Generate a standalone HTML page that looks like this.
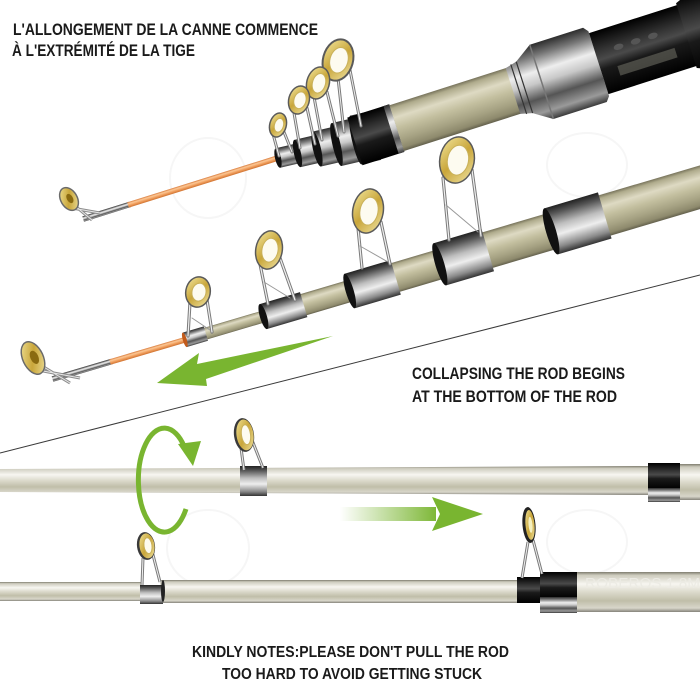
<!DOCTYPE html>
<html><head><meta charset="utf-8">
<style>html,body{margin:0;padding:0;background:#fff;}svg{display:block}</style>
</head><body>
<svg width="700" height="700" viewBox="0 0 700 700" xmlns="http://www.w3.org/2000/svg">
<defs>
 <linearGradient id="gold" x1="0" y1="0" x2="0" y2="1">
  <stop offset="0" stop-color="#77735b"/>
  <stop offset="0.08" stop-color="#afab8c"/>
  <stop offset="0.28" stop-color="#dedac3"/>
  <stop offset="0.5" stop-color="#c3bf9f"/>
  <stop offset="0.75" stop-color="#a6a283"/>
  <stop offset="0.92" stop-color="#8e8a6d"/>
  <stop offset="1" stop-color="#63604c"/>
 </linearGradient>
 <linearGradient id="hrod" x1="0" y1="0" x2="0" y2="1">
  <stop offset="0" stop-color="#7e7c6e"/>
  <stop offset="0.08" stop-color="#cdcbbd"/>
  <stop offset="0.3" stop-color="#f7f6f1"/>
  <stop offset="0.5" stop-color="#dcdacc"/>
  <stop offset="0.72" stop-color="#c0bea9"/>
  <stop offset="0.9" stop-color="#d8d6ca"/>
  <stop offset="1" stop-color="#85837a"/>
 </linearGradient>
 <linearGradient id="chrome" x1="0" y1="0" x2="0" y2="1">
  <stop offset="0" stop-color="#2d2d2d"/>
  <stop offset="0.15" stop-color="#777"/>
  <stop offset="0.35" stop-color="#eeeeee"/>
  <stop offset="0.5" stop-color="#c8c8c8"/>
  <stop offset="0.7" stop-color="#555"/>
  <stop offset="0.88" stop-color="#9a9a9a"/>
  <stop offset="1" stop-color="#3a3a3a"/>
 </linearGradient>
 <linearGradient id="band" x1="0" y1="0" x2="0" y2="1">
  <stop offset="0" stop-color="#222"/>
  <stop offset="0.15" stop-color="#555"/>
  <stop offset="0.4" stop-color="#bdbdbd"/>
  <stop offset="0.6" stop-color="#eeeeee"/>
  <stop offset="0.85" stop-color="#8a8a8a"/>
  <stop offset="1" stop-color="#333"/>
 </linearGradient>
 <linearGradient id="blk" x1="0" y1="0" x2="0" y2="1">
  <stop offset="0" stop-color="#000"/>
  <stop offset="0.3" stop-color="#333"/>
  <stop offset="0.45" stop-color="#4a4a4a"/>
  <stop offset="0.6" stop-color="#1a1a1a"/>
  <stop offset="1" stop-color="#000"/>
 </linearGradient>
 <linearGradient id="orange" x1="0" y1="0" x2="0" y2="1">
  <stop offset="0" stop-color="#d97a3a"/>
  <stop offset="0.3" stop-color="#fbc896"/>
  <stop offset="0.6" stop-color="#f2a262"/>
  <stop offset="1" stop-color="#d0722f"/>
 </linearGradient>
 <linearGradient id="ring" x1="0" y1="0" x2="1" y2="1">
  <stop offset="0" stop-color="#f1e49a"/>
  <stop offset="0.5" stop-color="#c9a63a"/>
  <stop offset="1" stop-color="#efe2a0"/>
 </linearGradient>
 <linearGradient id="harrow" gradientUnits="userSpaceOnUse" x1="340" y1="0" x2="440" y2="0">
  <stop offset="0" stop-color="#79b530" stop-opacity="0"/>
  <stop offset="1" stop-color="#79b530"/>
 </linearGradient>
</defs>

<rect width="700" height="700" fill="#fff"/>

<!-- faint watermarks -->
<g fill="none" stroke="#f6f6f6" stroke-width="2">
 <ellipse cx="208" cy="178" rx="38" ry="40"/>
 <ellipse cx="587" cy="165" rx="40" ry="32"/>
 <ellipse cx="208" cy="548" rx="41" ry="38"/>
 <ellipse cx="587" cy="542" rx="40" ry="32"/>
</g>

<!-- diagonal separator -->
<line x1="0" y1="453" x2="700" y2="275" stroke="#3a3a3a" stroke-width="1"/>

<!-- ===== ROD 1 ===== -->
<g transform="translate(128,205) rotate(-17.4)">
 <rect x="-47" y="-2.8" width="49" height="5.6" fill="url(#chrome)"/>
 <rect x="0" y="-2.8" width="156" height="5.6" fill="url(#orange)"/>
</g>
<path d="M72 208 L100 213 M74 205 L92 220" stroke="#8c8c8c" stroke-width="3" fill="none"/>
<path d="M72 208 L100 213 M74 205 L92 220" stroke="#e6e6e6" stroke-width="1" fill="none"/>
<g transform="translate(69,199) rotate(-30)">
 <ellipse rx="9" ry="13" fill="#6a6a6a"/>
 <ellipse rx="7.5" ry="11.5" fill="url(#ring)"/>
 <ellipse cx="1" rx="3" ry="5" fill="#8a6a10"/>
</g>

<!-- cluster -->
<g transform="translate(278,158) rotate(-13)">
 <rect x="0" y="-10" width="22" height="20" fill="url(#chrome)"/>
 <ellipse cx="0" cy="0" rx="3" ry="10" fill="#111"/>
 <rect x="20" y="-14" width="22" height="28" fill="url(#chrome)"/>
 <ellipse cx="20" cy="0" rx="3.5" ry="14" fill="#111"/>
 <rect x="40" y="-18" width="22" height="36" fill="url(#chrome)"/>
 <ellipse cx="40" cy="0" rx="4" ry="18" fill="#111"/>
 <rect x="60" y="-22" width="22" height="44" fill="url(#chrome)"/>
 <ellipse cx="60" cy="0" rx="4" ry="22" fill="#111"/>
 <rect x="80" y="-25" width="20" height="50" fill="url(#chrome)"/>
 <ellipse cx="80" cy="0" rx="4" ry="25" fill="#111"/>
</g>

<!-- main blank rod1 -->
<g transform="translate(372,136) rotate(-17.7)">
 <rect x="-18" y="-25" width="44" height="50" fill="url(#blk)"/>
 <rect x="20" y="-25" width="6" height="50" fill="url(#chrome)"/>
 <rect x="26" y="-24" width="124" height="48" fill="url(#gold)"/>
 <polygon points="148,-24 160,-27 166,-31 178,-39 234,-39 238,-34 238,34 234,39 178,39 166,31 160,27 148,24" fill="url(#chrome)"/>
 <line x1="154" y1="-26" x2="154" y2="26" stroke="#333" stroke-width="1.2"/>
 <line x1="160" y1="-27" x2="160" y2="27" stroke="#333" stroke-width="1.2"/>
 <line x1="178" y1="-39" x2="178" y2="39" stroke="#777" stroke-width="1.5"/>
 <rect x="238" y="-32" width="200" height="64" fill="url(#blk)"/>
 <ellipse cx="262" cy="-10" rx="5" ry="3" fill="#555"/>
 <ellipse cx="280" cy="-10" rx="5" ry="3" fill="#555"/>
 <ellipse cx="298" cy="-10" rx="5" ry="3" fill="#555"/>
 <rect x="255" y="8" width="60" height="10" fill="#6a6a60" opacity="0.6"/>
 <polygon points="330,-34 345,-40 440,-40 440,40 345,40 330,34" fill="url(#blk)"/>
</g>

<!-- rod1 guides -->
<g fill="none" stroke-linecap="round">
 <path d="M273 134 L279 156 M284 132 L292 152 M338 78 L344 132 M350 70 L361 126 M314 97 L322 140 M327 92 L338 136 M294 113 L300 148 M307 108 L315 144" stroke="#7a7a7a" stroke-width="3"/>
 <path d="M273 134 L279 156 M284 132 L292 152 M338 78 L344 132 M350 70 L361 126 M314 97 L322 140 M327 92 L338 136 M294 113 L300 148 M307 108 L315 144" stroke="#eeeeee" stroke-width="1"/>
</g>
<g transform="translate(338,60) rotate(15)">
 <ellipse rx="16" ry="22" fill="#5a5a5a"/><ellipse rx="14" ry="20" fill="url(#ring)"/><ellipse cx="1" rx="9" ry="13" fill="#fdfbf0" stroke="#c9b15a"/>
</g>
<g transform="translate(318,83) rotate(15)">
 <ellipse rx="12" ry="17" fill="#5a5a5a"/><ellipse rx="10.5" ry="15.5" fill="url(#ring)"/><ellipse cx="1" rx="6.5" ry="10" fill="#fdfbf0" stroke="#c9b15a"/>
</g>
<g transform="translate(299,100) rotate(15)">
 <ellipse rx="11" ry="15" fill="#5a5a5a"/><ellipse rx="9.5" ry="13.5" fill="url(#ring)"/><ellipse cx="1" rx="6" ry="8.5" fill="#fdfbf0" stroke="#c9b15a"/>
</g>
<g transform="translate(278,125) rotate(15)">
 <ellipse rx="9" ry="13" fill="#5a5a5a"/><ellipse rx="7.5" ry="11.5" fill="url(#ring)"/><ellipse cx="1" rx="4.5" ry="7" fill="#fdfbf0" stroke="#c9b15a"/>
</g>

<!-- ===== ROD 2 ===== -->
<g transform="translate(110,362) rotate(-16.5)">
 <rect x="-60" y="-2.8" width="62" height="5.6" fill="url(#chrome)"/>
 <rect x="0" y="-2.8" width="84" height="5.6" fill="url(#orange)"/>
 <rect x="80" y="-6" width="84" height="12" fill="url(#gold)"/>
 <rect x="78" y="-7.5" width="22" height="15" fill="url(#chrome)"/>
 <ellipse cx="78" cy="0" rx="2" ry="7.5" fill="#c25a1a"/>
 <rect x="160" y="-11" width="92" height="22" fill="url(#gold)"/>
 <rect x="160" y="-13" width="42" height="26" fill="url(#band)"/>
 <ellipse cx="160" cy="0" rx="3.5" ry="13" fill="#111"/>
 <rect x="250" y="-15" width="96" height="30" fill="url(#gold)"/>
 <rect x="250" y="-18" width="48" height="36" fill="url(#band)"/>
 <ellipse cx="250" cy="0" rx="4" ry="18" fill="#111"/>
 <rect x="344" y="-18.5" width="120" height="37" fill="url(#gold)"/>
 <rect x="344" y="-22" width="50" height="44" fill="url(#band)"/>
 <ellipse cx="344" cy="0" rx="4.5" ry="22" fill="#111"/>
 <rect x="460" y="-21" width="200" height="42" fill="url(#gold)"/>
 <rect x="460" y="-24" width="56" height="48" fill="url(#band)"/>
 <ellipse cx="460" cy="0" rx="5" ry="24" fill="#111"/>
</g>

<!-- rod2 tip guide -->
<path d="M38 370 L80 378 M42 366 L70 383" stroke="#8c8c8c" stroke-width="3" fill="none"/>
<path d="M38 370 L80 378 M42 366 L70 383" stroke="#e6e6e6" stroke-width="1" fill="none"/>
<g transform="translate(33,358) rotate(-25)">
 <ellipse rx="11" ry="18" fill="#6a6a6a"/>
 <ellipse rx="9.5" ry="16.5" fill="url(#ring)"/>
 <ellipse cx="1.5" rx="4" ry="7" fill="#8a6a10"/>
</g>

<!-- rod2 guides legs -->
<g fill="none" stroke-linecap="round">
 <path d="M190 302 L188 336 M207 300 L212 332 M260 264 L268 304 M280 258 L295 300 M358 228 L362 268 M381 222 L390 264 M443 178 L449 240 M472 170 L481 236" stroke="#7a7a7a" stroke-width="3.2"/>
 <path d="M190 302 L188 336 M207 300 L212 332 M260 264 L268 304 M280 258 L295 300 M358 228 L362 268 M381 222 L390 264 M443 178 L449 240 M472 170 L481 236" stroke="#f0f0f0" stroke-width="1.2"/>
 <path d="M192 318 L210 330 M264 282 L290 298 M360 246 L388 262 M446 205 L478 232" stroke="#999" stroke-width="1"/>
</g>
<g transform="translate(198,292) rotate(10)">
 <ellipse rx="13" ry="16" fill="#5a5a5a"/><ellipse rx="11.5" ry="14.5" fill="url(#ring)"/><ellipse cx="1" rx="7" ry="9" fill="#fdfbf0" stroke="#c9b15a"/>
</g>
<g transform="translate(269,250) rotate(10)">
 <ellipse rx="14" ry="20" fill="#5a5a5a"/><ellipse rx="12.5" ry="18.5" fill="url(#ring)"/><ellipse cx="1" rx="8" ry="12" fill="#fdfbf0" stroke="#c9b15a"/>
</g>
<g transform="translate(368,211) rotate(10)">
 <ellipse rx="16" ry="23" fill="#5a5a5a"/><ellipse rx="14.5" ry="21.5" fill="url(#ring)"/><ellipse cx="1" rx="9" ry="14" fill="#fdfbf0" stroke="#c9b15a"/>
</g>
<g transform="translate(457,160) rotate(10)">
 <ellipse rx="18" ry="24" fill="#5a5a5a"/><ellipse rx="16.5" ry="22.5" fill="url(#ring)"/><ellipse cx="1" rx="10.5" ry="15" fill="#fdfbf0" stroke="#c9b15a"/>
</g>

<!-- green left arrow -->
<polygon points="157,383 199,353 197,364 333,336 206,379 207,386" fill="#79b530"/>

<!-- ===== ROD 3 (horizontal upper) ===== -->
<polygon points="0,469 648,466 648,495 0,492" fill="url(#hrod)"/>
<rect x="648" y="463" width="32" height="26" fill="url(#blk)"/>
<rect x="648" y="488" width="32" height="14" fill="url(#chrome)"/>
<rect x="680" y="464" width="20" height="36" fill="url(#hrod)"/>
<rect x="240" y="466" width="27" height="30" fill="url(#band)"/>
<path d="M241 448 L244 470 M252 440 L263 468" stroke="#7a7a7a" stroke-width="3" fill="none"/>
<path d="M241 448 L244 470 M252 440 L263 468" stroke="#f0f0f0" stroke-width="1" fill="none"/>
<g transform="translate(244,435) rotate(-8)">
 <ellipse rx="10" ry="17" fill="#3a3a3a"/><ellipse cx="1" rx="8.5" ry="15.5" fill="url(#ring)"/><ellipse cx="2" rx="4.5" ry="10" fill="#fdfbf0" stroke="#c9b15a"/>
</g>

<!-- ===== ROD 4 (horizontal lower) ===== -->
<rect x="0" y="582" width="142" height="19" fill="url(#hrod)"/>
<rect x="160" y="580" width="360" height="23" fill="url(#hrod)"/>
<rect x="140" y="585" width="23" height="19" fill="url(#band)"/>
<ellipse cx="163" cy="591" rx="2" ry="11" fill="#222"/>
<path d="M143 558 L142 585 M152 551 L160 582" stroke="#7a7a7a" stroke-width="3" fill="none"/>
<path d="M143 558 L142 585 M152 551 L160 582" stroke="#f0f0f0" stroke-width="1" fill="none"/>
<g transform="translate(146,546) rotate(-8)">
 <ellipse rx="9" ry="14" fill="#3a3a3a"/><ellipse cx="1" rx="7.5" ry="12.5" fill="url(#ring)"/><ellipse cx="2" rx="4" ry="8" fill="#fdfbf0" stroke="#c9b15a"/>
</g>
<rect x="577" y="572" width="123" height="40" fill="url(#hrod)"/>
<text x="585" y="588" font-family="Liberation Sans, sans-serif" font-size="15" fill="#ecebe4" textLength="115" lengthAdjust="spacingAndGlyphs">ROBEROS  1.8M</text>
<rect x="517" y="577" width="24" height="26" fill="url(#blk)"/>
<rect x="540" y="572" width="37" height="26" fill="url(#blk)"/>
<rect x="540" y="597" width="37" height="16" fill="url(#chrome)"/>
<path d="M528 542 L522 578 M533 540 L542 574" stroke="#7a7a7a" stroke-width="3" fill="none"/>
<path d="M528 542 L522 578 M533 540 L542 574" stroke="#f0f0f0" stroke-width="1" fill="none"/>
<g transform="translate(529,525) rotate(-5)">
 <ellipse rx="6.5" ry="18" fill="#222"/><ellipse cx="1" rx="4.5" ry="15" fill="url(#ring)"/><ellipse cx="1.5" rx="2" ry="8" fill="#f5f0c0"/>
</g>

<!-- rotation arrow -->
<path d="M186 509 A26 52 0 1 1 184 446" fill="none" stroke="#79b530" stroke-width="5"/>
<polygon points="178,444 201,441 193,466" fill="#79b530"/>

<!-- horizontal arrow -->
<rect x="340" y="507" width="96" height="14" fill="url(#harrow)"/>
<polygon points="432,497 483,514 432,531 440,514" fill="#79b530"/>

<!-- texts -->
<g font-family="Liberation Sans, Arial, sans-serif" font-weight="bold" fill="#1a1a1a" font-size="17">
 <text x="13" y="35" textLength="305" lengthAdjust="spacingAndGlyphs">L'ALLONGEMENT DE LA CANNE COMMENCE</text>
 <text x="12" y="56" textLength="183" lengthAdjust="spacingAndGlyphs">À L'EXTRÉMITÉ DE LA TIGE</text>
 <text x="412" y="379" textLength="213" lengthAdjust="spacingAndGlyphs">COLLAPSING THE ROD BEGINS</text>
 <text x="412" y="402" textLength="205" lengthAdjust="spacingAndGlyphs">AT THE BOTTOM OF THE ROD</text>
 <text x="192" y="657" font-size="16" textLength="317" lengthAdjust="spacingAndGlyphs">KINDLY NOTES:PLEASE DON'T PULL THE ROD</text>
 <text x="222" y="679" font-size="16" textLength="260" lengthAdjust="spacingAndGlyphs">TOO HARD TO AVOID GETTING STUCK</text>
</g>
</svg>
</body></html>
